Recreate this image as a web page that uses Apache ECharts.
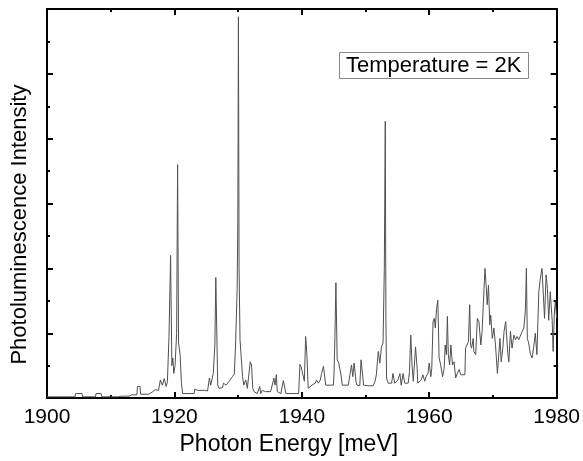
<!DOCTYPE html>
<html>
<head>
<meta charset="utf-8">
<script src="https://cdn.jsdelivr.net/npm/echarts@6/dist/echarts.min.js"></script>
<style>
    html, body { margin: 0; padding: 0; background: #fff; }
    #chart { width: 583px; height: 461px; }
</style>
</head>
<body>
<div id="chart"></div>
<script>
// Photon energy [meV]
const energy = [
    1900.0, 1904.4, 1904.5, 1905.5, 1905.6, 1907.6, 1907.7, 1908.5, 1908.6, 1911.2,
    1911.4, 1911.7, 1912.0, 1912.3, 1912.6, 1912.9, 1913.3, 1914.1, 1914.2, 1914.6,
    1914.7, 1916.0, 1916.6, 1917.0, 1917.5, 1917.8, 1918.1, 1918.4, 1918.7, 1918.9,
    1919.15, 1919.4, 1919.6, 1919.75, 1919.9, 1920.1, 1920.35, 1920.5, 1920.65, 1920.9,
    1921.1, 1921.3,
    1923.1, 1923.2, 1923.6, 1923.9, 1924.7, 1925.2, 1925.5, 1925.7, 1926.1, 1926.35,
    1926.5, 1926.8, 1927.0, 1927.55, 1927.7, 1928.1, 1928.6, 1928.85, 1929.1, 1929.4,
    1929.6, 1929.85, 1929.95, 1930.05, 1930.15, 1930.3, 1930.7, 1930.9, 1931.2, 1931.45,
    1931.9, 1932.1, 1932.3, 1932.5, 1933.0, 1933.4, 1933.55, 1933.8, 1934.3, 1935.1,
    1935.5, 1935.6, 1935.8, 1936.0, 1936.15, 1936.7, 1937.1, 1937.3, 1937.5, 1939.5,
    1939.7, 1939.9,
    1940.05, 1940.4, 1940.6, 1940.8, 1941.0, 1941.3, 1941.6, 1941.8, 1942.1, 1942.3,
    1942.6, 1942.9, 1943.1, 1943.4, 1943.6, 1943.75, 1944.95, 1945.05, 1945.2, 1945.35,
    1945.55, 1945.8, 1946.15, 1946.35, 1947.3, 1947.55, 1947.8, 1948.0, 1948.2, 1948.3,
    1948.5, 1948.65, 1949.1, 1949.3, 1949.5, 1949.7, 1950.4, 1951.2, 1951.5, 1951.7,
    1952.0, 1952.25, 1952.5, 1952.75, 1952.95, 1953.1, 1953.2, 1953.3, 1953.55, 1953.8,
    1954.1, 1954.3, 1954.6, 1954.85, 1955.1, 1955.4, 1955.6, 1955.9, 1956.15, 1956.7,
    1956.9, 1957.1, 1957.3, 1957.5, 1957.7, 1957.85, 1958.1, 1958.2, 1958.5, 1958.75,
    1959.0, 1959.3, 1959.5, 1959.8,
    1960.0, 1960.25, 1960.4, 1960.6, 1960.8, 1960.95, 1961.15, 1961.35, 1961.55, 1961.8,
    1962.1, 1962.35, 1962.5, 1962.7, 1962.85, 1963.0, 1963.2, 1963.4, 1963.65, 1963.9,
    1964.15, 1964.4, 1964.7, 1964.95, 1965.6, 1965.7, 1966.0, 1966.15, 1966.35, 1966.5,
    1966.65, 1966.9, 1967.0, 1967.3, 1967.55, 1967.8, 1968.1, 1968.3, 1968.6, 1968.75,
    1968.95, 1969.1, 1969.3, 1969.5, 1969.65, 1969.9, 1970.15, 1970.4, 1970.7, 1970.9,
    1971.1, 1971.3, 1971.55, 1971.75, 1972.0, 1972.15, 1972.35, 1972.5, 1972.75, 1973.0,
    1973.3, 1973.55, 1973.8, 1974.05, 1974.3, 1974.6, 1974.85, 1975.1, 1975.25, 1975.4,
    1975.6, 1975.9, 1976.15, 1976.4, 1976.65, 1976.9, 1977.2, 1977.45, 1977.7, 1977.95,
    1978.1, 1978.35, 1978.55, 1978.75, 1979.0, 1979.3, 1979.45, 1979.65, 1979.8, 1980.0
];

// Photoluminescence intensity (arb. units, one tick = 1)
const intensity = [
    0.02, 0.02, 0.07, 0.07, 0.02, 0.02, 0.07, 0.07, 0.02, 0.02,
    0.05, 0.03, 0.05, 0.03, 0.05, 0.03, 0.05, 0.05, 0.18, 0.18,
    0.06, 0.06, 0.10, 0.13, 0.12, 0.28, 0.20, 0.30, 0.18, 0.25,
    0.95, 2.20, 0.50, 0.62, 0.38, 0.50, 1.00, 3.60, 0.85, 0.66,
    0.23, 0.07,
    0.07, 0.14, 0.12, 0.10, 0.12, 0.11, 0.31, 0.20, 0.38, 0.82,
    1.86, 0.20, 0.15, 0.16, 0.23, 0.20, 0.26, 0.28, 0.33, 0.37,
    0.82, 1.69, 2.70, 5.88, 2.00, 0.90, 0.33, 0.20, 0.28, 0.15,
    0.56, 0.51, 0.15, 0.10, 0.07, 0.18, 0.07, 0.12, 0.10, 0.10,
    0.26, 0.31, 0.20, 0.36, 0.10, 0.07, 0.27, 0.28, 0.07, 0.07,
    0.52, 0.48,
    0.41, 0.26, 0.95, 0.67, 0.15, 0.18, 0.20, 0.18, 0.23, 0.28,
    0.23, 0.28, 0.38, 0.49, 0.49, 0.20, 0.20, 0.36, 0.95, 1.78,
    0.59, 0.54, 0.36, 0.20, 0.20, 0.36, 0.51, 0.33, 0.54, 0.46,
    0.26, 0.20, 0.19, 0.59, 0.59, 0.20, 0.19, 0.19, 0.26, 0.36,
    0.72, 0.54, 0.79, 0.85, 2.00, 4.27, 1.20, 0.31, 0.23, 0.20,
    0.23, 0.38, 0.23, 0.26, 0.28, 0.38, 0.20, 0.38, 0.23, 0.23,
    0.41, 0.97, 0.51, 0.26, 0.56, 0.79, 0.46, 0.23, 0.20, 0.28,
    0.36, 0.26, 0.33, 0.38,
    0.54, 0.33, 0.46, 1.18, 1.23, 1.08, 1.38, 1.51, 0.62, 0.51,
    0.33, 0.46, 0.82, 0.67, 1.26, 0.67, 0.51, 0.82, 0.51, 0.56,
    0.31, 0.38, 0.44, 0.36, 0.36, 0.77, 0.74, 0.87, 1.44, 0.82,
    0.77, 0.92, 0.72, 0.67, 1.23, 1.18, 0.82, 1.03, 1.69, 2.00,
    1.72, 1.44, 1.74, 1.13, 1.28, 0.92, 1.08, 0.82, 0.38, 0.41,
    0.92, 0.56, 0.77, 1.03, 1.18, 1.20, 0.67, 0.56, 1.03, 0.77,
    0.97, 0.90, 0.95, 0.90, 0.92, 1.03, 1.08, 1.36, 2.00, 0.92,
    0.85, 0.67, 0.62, 0.79, 1.00, 0.67, 1.64, 1.85, 2.00, 2.00,
    1.23, 1.90, 1.69, 1.20, 1.64, 1.20, 0.72, 1.33, 1.49, 1.23
];

const xRange = [1900, 1980];
const xStep = 20;
const yRange = [0, 6];
const annotation = 'Temperature = 2K';

const font = '"Liberation Sans", Arial, sans-serif';
const black = '#000';

// Shared look of the four frame axes (ticks inside, thick black line)
function frameAxis(extra) {
    return Object.assign({
        type: 'value',
        axisLine: { show: true, onZero: false, lineStyle: { color: black, width: 2 } },
        axisTick: { show: true, inside: true, length: 6, lineStyle: { color: black, width: 2 } },
        minorTick: { show: true, splitNumber: 2, length: 3, lineStyle: { color: black, width: 2 } },
        splitLine: { show: false },
        minorSplitLine: { show: false },
        axisLabel: { show: false }
    }, extra);
}

const chart = echarts.init(document.getElementById('chart'));

const option = {
    animation: false,
    backgroundColor: '#fff',
    title: {
        text: annotation,
        left: 339,
        top: 52,
        padding: [2, 7, 2, 7],
        borderColor: '#888',
        borderWidth: 1,
        backgroundColor: '#fff',
        textStyle: { fontFamily: font, fontSize: 22, fontWeight: 'normal', color: black, lineHeight: 23 }
    },
    grid: { left: 47, right: 24, top: 9, bottom: 61 },
    xAxis: [
        frameAxis({
            position: 'bottom',
            min: xRange[0], max: xRange[1], interval: xStep,
            axisLabel: {
                show: true, margin: 9, color: black, fontFamily: font, fontSize: 21,
                formatter: v => String(v)
            },
            name: 'Photon Energy [meV]',
            nameLocation: 'middle',
            nameGap: 28,
            nameTextStyle: { fontFamily: font, fontSize: 23, color: black, padding: [0, 26, 0, 0] }
        }),
        frameAxis({ position: 'top', min: xRange[0], max: xRange[1], interval: xStep })
    ],
    yAxis: [
        frameAxis({
            position: 'left',
            min: yRange[0], max: yRange[1], interval: 1,
            name: 'Photoluminescence Intensity',
            nameLocation: 'middle',
            nameGap: 16,
            nameTextStyle: { fontFamily: font, fontSize: 22, color: black, padding: [0, 42, 0, 0] }
        }),
        frameAxis({ position: 'right', min: yRange[0], max: yRange[1], interval: 1 })
    ],
    series: [{
        type: 'line',
        xAxisIndex: 0,
        yAxisIndex: 0,
        showSymbol: false,
        symbol: 'none',
        lineStyle: { color: '#505050', width: 1 },
        data: energy.map((e, i) => [e, intensity[i]])
    }]
};

if (energy.length !== intensity.length) console.error('length mismatch', energy.length, intensity.length);

chart.setOption(option);
</script>
</body>
</html>
